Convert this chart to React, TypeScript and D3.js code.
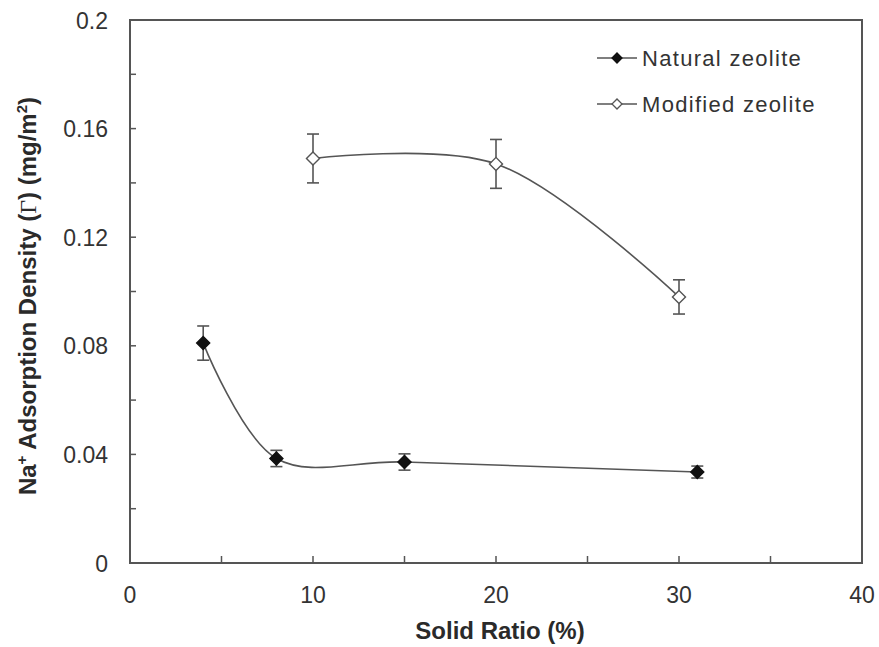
import { useEffect, useRef } from 'react';
import * as d3 from 'd3';

// Natural zeolite
const naturalX = [4, 8, 15, 31];
const naturalY = [0.081, 0.0385, 0.0372, 0.0335];
const naturalErr = [0.0063, 0.003, 0.003, 0.0022];

// Modified zeolite
const modifiedX = [10, 20, 30];
const modifiedY = [0.149, 0.147, 0.098];
const modifiedErr = [0.009, 0.009, 0.0063];

const xTicks = [0, 10, 20, 30, 40];
const xMinorTicks = [5, 15, 25, 35];
const yTicks = [0, 0.04, 0.08, 0.12, 0.16, 0.2];
const yMinorTicks = [0.02, 0.06, 0.1, 0.14, 0.18];

const W = 879;
const H = 647;
const PLOT = { left: 130, right: 862, top: 20, bottom: 563 };
const FONT = '"Liberation Sans", Arial, sans-serif';

export default function App() {
  const svgRef = useRef<SVGSVGElement>(null);

  useEffect(() => {
    if (!svgRef.current) return;
    const svg = d3.select(svgRef.current);
    svg.selectAll('*').remove();

    const x = d3.scaleLinear().domain([0, 40]).range([PLOT.left, PLOT.right]);
    const y = d3.scaleLinear().domain([0, 0.2]).range([PLOT.bottom, PLOT.top]);

    const axisCol = '#555';

    // frame
    svg.append('rect')
      .attr('x', PLOT.left)
      .attr('y', PLOT.top)
      .attr('width', PLOT.right - PLOT.left)
      .attr('height', PLOT.bottom - PLOT.top)
      .attr('fill', 'none')
      .attr('stroke', axisCol)
      .attr('stroke-width', 2);

    // inward ticks
    [...xTicks.slice(1, -1), ...xMinorTicks].forEach((t) => {
      svg.append('line')
        .attr('x1', x(t)).attr('x2', x(t))
        .attr('y1', PLOT.bottom).attr('y2', PLOT.bottom - 7)
        .attr('stroke', axisCol).attr('stroke-width', 1.5);
    });
    [...yTicks.slice(1, -1), ...yMinorTicks].forEach((t) => {
      svg.append('line')
        .attr('x1', PLOT.left).attr('x2', PLOT.left + 6)
        .attr('y1', y(t)).attr('y2', y(t))
        .attr('stroke', axisCol).attr('stroke-width', 1.5);
    });

    // tick labels
    xTicks.forEach((t) => {
      svg.append('text')
        .attr('x', x(t))
        .attr('y', 603)
        .attr('text-anchor', 'middle')
        .attr('font-family', FONT)
        .attr('font-size', 23)
        .attr('fill', '#333')
        .text(String(t));
    });
    yTicks.forEach((t) => {
      svg.append('text')
        .attr('x', 108)
        .attr('y', y(t) + 8.5)
        .attr('text-anchor', 'end')
        .attr('font-family', FONT)
        .attr('font-size', 23)
        .attr('fill', '#333')
        .text(t === 0 ? '0' : String(+t.toFixed(2)));
    });

    // axis titles
    svg.append('text')
      .attr('x', 500)
      .attr('y', 639)
      .attr('text-anchor', 'middle')
      .attr('font-family', FONT)
      .attr('font-size', 24)
      .attr('font-weight', 'bold')
      .attr('fill', '#2a2a2a')
      .text('Solid Ratio (%)');

    const yTitle = svg.append('text')
      .attr('transform', `translate(36,296) rotate(-90)`)
      .attr('text-anchor', 'middle')
      .attr('font-family', FONT)
      .attr('font-size', 24)
      .attr('font-weight', 'bold')
      .attr('fill', '#2a2a2a');
    yTitle.append('tspan').text('Na');
    yTitle.append('tspan').attr('dy', -9).attr('font-size', 15).text('+');
    yTitle.append('tspan').attr('dy', 9).text(' Adsorption Density (');
    yTitle.append('tspan')
      .attr('font-family', '"Liberation Serif", "Times New Roman", serif')
      .attr('font-weight', 'normal')
      .text('Γ');
    yTitle.append('tspan').text(') (mg/m');
    yTitle.append('tspan').attr('dy', -9).attr('font-size', 15).text('2');
    yTitle.append('tspan').attr('dy', 9).text(')');

    const line = d3.line<[number, number]>()
      .x((d) => x(d[0]))
      .y((d) => y(d[1]))
      .curve(d3.curveCatmullRom.alpha(0.5));

    const diamond = d3.symbol(d3.symbolSquare, 85)();

    const drawSeries = (
      xs: number[], ys: number[], errs: number[], fill: string, stroke: string,
    ) => {
      svg.append('path')
        .attr('d', line(xs.map((v, i) => [v, ys[i]] as [number, number])))
        .attr('fill', 'none')
        .attr('stroke', '#555')
        .attr('stroke-width', 1.6);

      xs.forEach((v, i) => {
        const cx = x(v);
        const top = y(ys[i] + errs[i]);
        const bot = y(ys[i] - errs[i]);
        svg.append('line')
          .attr('x1', cx).attr('x2', cx).attr('y1', top).attr('y2', bot)
          .attr('stroke', '#555').attr('stroke-width', 1.6);
        [top, bot].forEach((yy) => {
          svg.append('line')
            .attr('x1', cx - 6).attr('x2', cx + 6).attr('y1', yy).attr('y2', yy)
            .attr('stroke', '#555').attr('stroke-width', 1.6);
        });
        svg.append('path')
          .attr('d', diamond)
          .attr('transform', `translate(${cx},${y(ys[i])}) rotate(45)`)
          .attr('fill', fill)
          .attr('stroke', stroke)
          .attr('stroke-width', 1.4);
      });
    };

    drawSeries(naturalX, naturalY, naturalErr, '#111', '#111');
    drawSeries(modifiedX, modifiedY, modifiedErr, '#fff', '#555');

    // legend
    const legend = [
      { label: 'Natural zeolite', fill: '#111', stroke: '#111', y: 58 },
      { label: 'Modified zeolite', fill: '#fff', stroke: '#555', y: 104 },
    ];
    legend.forEach((l) => {
      svg.append('line')
        .attr('x1', 597).attr('x2', 637).attr('y1', l.y).attr('y2', l.y)
        .attr('stroke', '#555').attr('stroke-width', 1.6);
      svg.append('path')
        .attr('d', d3.symbol(d3.symbolSquare, 50)())
        .attr('transform', `translate(617,${l.y}) rotate(45)`)
        .attr('fill', l.fill)
        .attr('stroke', l.stroke)
        .attr('stroke-width', 1.3);
      svg.append('text')
        .attr('x', 642)
        .attr('y', l.y + 8)
        .attr('font-family', FONT)
        .attr('font-size', 22)
        .attr('letter-spacing', 1.3)
        .attr('fill', '#333')
        .text(l.label);
    });
  }, []);

  return (
    <svg
      ref={svgRef}
      width={W}
      height={H}
      style={{ position: 'absolute', left: 0, top: 0, background: '#fff' }}
    />
  );
}
